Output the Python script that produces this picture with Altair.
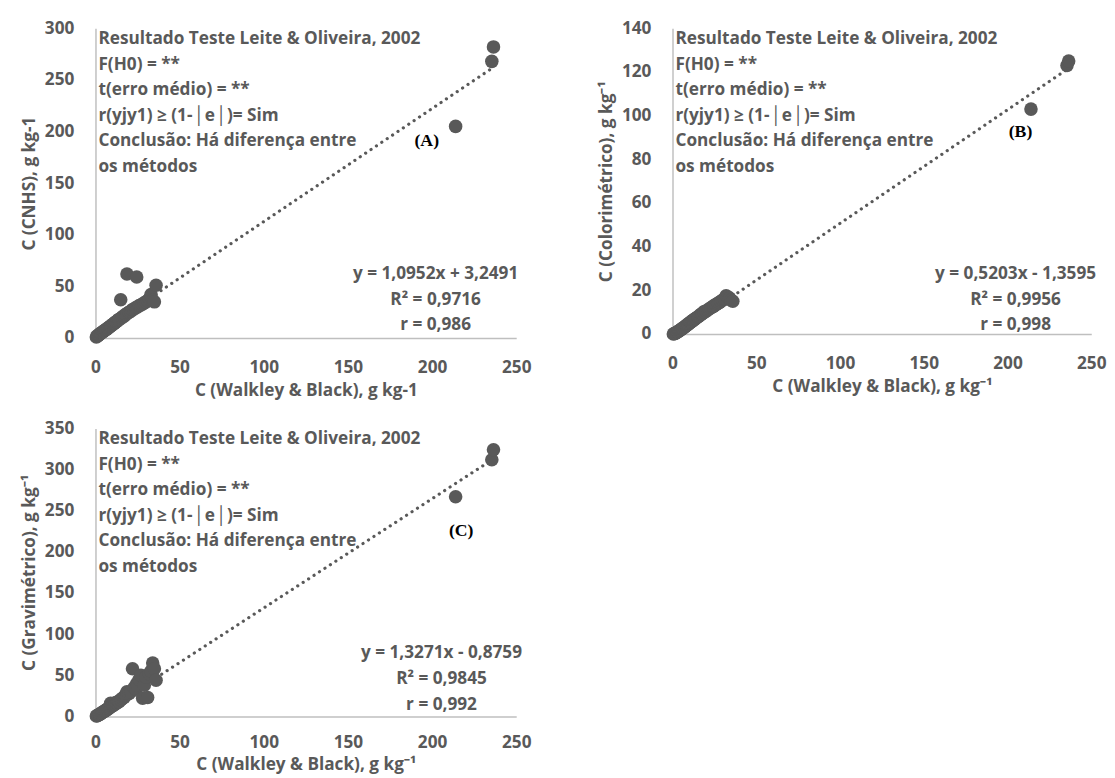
import altair as alt
import pandas as pd

# Walkley & Black carbon (x), g kg-1
wb = [0.5, 1.0, 1.5, 2.0, 2.5, 3.0, 3.5, 4.0, 4.5, 5.0, 5.5, 6.0, 6.5, 7.0, 7.5,
      8.0, 8.5, 9.0, 9.5, 10.0, 10.5, 11.0, 11.5, 12.0, 12.5, 13.0, 13.5, 14.0,
      15.0, 15.5, 16.0, 17.0, 17.5, 18.0, 18.7, 19.0, 20.0, 21.0, 22.0, 23.0,
      24.0, 24.5, 25.0, 26.0, 27.0, 28.0, 29.0, 30.0, 31.0, 32.0, 33.0, 34.0,
      35.0, 36.0, 214.0, 235.5, 236.5]

# CNHS carbon (panel A)
cnhs = [1.0, 1.8, 2.5, 3.0, 3.6, 4.5, 4.8, 5.5, 6.2, 6.5, 7.4, 8.0, 8.3, 9.2, 9.5,
        10.4, 10.8, 11.6, 12.0, 12.8, 13.5, 14.0, 14.6, 15.5, 16.0, 16.4, 17.5, 18.0,
        37.0, 19.5, 20.5, 21.0, 22.0, 23.0, 62.0, 24.0, 25.0, 26.0, 27.5, 28.0,
        29.5, 59.0, 30.0, 31.5, 32.0, 33.0, 34.0, 35.0, 36.0, 38.0, 42.0, 36.5,
        35.0, 51.0, 205.0, 268.0, 282.0]

# Colorimetric carbon (panel B)
colori = [0.0, 0.2, 0.3, 0.5, 0.8, 1.0, 1.2, 1.5, 1.8, 2.0, 2.3, 2.6, 2.8, 3.2, 3.4,
          3.8, 4.0, 4.3, 4.6, 5.0, 5.2, 5.5, 5.8, 6.2, 6.4, 6.6, 7.0, 7.2,
          7.8, 8.0, 8.4, 9.0, 9.2, 9.5, 10.2, 10.0, 10.5, 11.0, 11.6, 12.0,
          12.5, 12.8, 13.0, 13.6, 14.0, 14.5, 15.0, 15.6, 16.0, 17.5, 17.0, 16.5,
          15.5, 15.0, 103.0, 123.0, 125.0]

# Gravimetric carbon (panel C)
grav = [0.5, 1.0, 1.5, 2.0, 2.5, 3.5, 4.0, 4.5, 5.5, 6.0, 6.5, 7.0, 8.0, 9.0, 9.0,
        10.0, 11.0, 16.0, 12.0, 13.0, 13.5, 14.0, 15.0, 17.0, 16.0, 17.0, 18.0, 18.0,
        20.0, 21.0, 22.0, 23.0, 25.0, 26.0, 30.0, 27.0, 28.0, 30.0, 58.0, 35.0,
        33.0, 40.0, 38.0, 45.0, 50.0, 22.0, 38.0, 48.0, 23.0, 52.0, 55.0, 65.0,
        58.0, 44.0, 267.0, 312.0, 324.0]

# Trendline coefficients (slope, intercept) as printed on the chart
coef_a = (1.0952, 3.2491)
coef_b = (0.5203, -1.3595)
coef_c = (1.3271, -0.8759)

x_ticks = [0, 50, 100, 150, 200, 250]
y_ticks_a = [0, 50, 100, 150, 200, 250, 300]
y_ticks_b = [0, 20, 40, 60, 80, 100, 120, 140]
y_ticks_c = [0, 50, 100, 150, 200, 250, 300, 350]

test_text = ("Resultado Teste Leite & Oliveira, 2002\nF(H0) = **\nt(erro médio) = **\n"
             "r(yjy1) ≥ (1-│e│)= Sim\nConclusão: Há diferença entre\nos métodos")
eq_a = "y = 1,0952x + 3,2491\nR² = 0,9716\nr = 0,986"
eq_b = "y = 0,5203x - 1,3595\nR² = 0,9956\nr = 0,998"
eq_c = "y = 1,3271x - 0,8759\nR² = 0,9845\nr = 0,992"

FONT = "Open Sans"
GRAY = "#595959"


def panel(yvals, coef, ydomain, yticks, ytitle, xtitle, w, h, eq, eq_x, eq_y,
          tag, tag_x, tag_y, xlab_pad=21, xtitle_pad=6):
    df = pd.DataFrame({"x": wb, "y": yvals})
    line_df = pd.DataFrame({"x": [min(wb), max(wb)]})
    line_df["y"] = coef[0] * line_df["x"] + coef[1]

    xenc = alt.X("x:Q", scale=alt.Scale(domain=[0, 250], nice=False),
                 axis=alt.Axis(values=x_ticks, title=xtitle, labelFlush=False,
                               labelPadding=xlab_pad, titlePadding=xtitle_pad))
    yenc = alt.Y("y:Q", scale=alt.Scale(domain=ydomain, nice=False),
                 axis=alt.Axis(values=yticks, title=ytitle, labelPadding=22,
                               titlePadding=6))

    pts = alt.Chart(df).mark_circle(size=190, color=GRAY, opacity=1).encode(x=xenc, y=yenc)
    trend = alt.Chart(line_df).mark_line(color=GRAY, strokeWidth=3.2,
                                         strokeDash=[0.1, 6.5], strokeCap="round").encode(x=xenc, y=yenc)
    t1 = alt.Chart(pd.DataFrame({"t": [test_text]})).mark_text(
        align="left", baseline="middle", font=FONT, fontWeight="bold", fontSize=17.5,
        color=GRAY, lineBreak="\n", lineHeight=26).encode(
        text="t:N", x=alt.value(3), y=alt.value(11))
    t2 = alt.Chart(pd.DataFrame({"t": [eq]})).mark_text(
        align="center", baseline="middle", font=FONT, fontWeight="bold", fontSize=17.5,
        color=GRAY, lineBreak="\n", lineHeight=26).encode(
        text="t:N", x=alt.value(eq_x), y=alt.value(eq_y))
    t3 = alt.Chart(pd.DataFrame({"t": [tag]})).mark_text(
        align="center", baseline="middle", font="Liberation Serif", fontWeight="bold",
        fontSize=18, color="#000000").encode(
        text="t:N", x=alt.value(tag_x), y=alt.value(tag_y))
    return alt.layer(trend, pts, t1, t2, t3).properties(width=w, height=h)


pa = panel(cnhs, coef_a, [0, 300], y_ticks_a, "C (CNHS), g kg-1",
           "C (Walkley & Black), g kg-1", 428, 315, eq_a, 346, 250, "(A)", 337, 115)
pb = panel(colori, coef_b, [0, 140], y_ticks_b, "C (Colorimétrico), g kg⁻¹",
           "C (Walkley & Black), g kg⁻¹", 426, 311, eq_b, 349, 250, "(B)", 354, 106)
pc = panel(grav, coef_c, [0, 350], y_ticks_c, "C (Gravimétrico), g kg⁻¹",
           "C (Walkley & Black), g kg⁻¹", 428, 293, eq_c, 352, 229, "(C)", 372, 104,
           xlab_pad=18, xtitle_pad=5)

chart = alt.vconcat(
    alt.hconcat(pa, pb, spacing=66),
    pc,
    spacing=21,
).properties(
    padding={"left": 12, "top": 5, "right": 0, "bottom": 0}
).configure_view(stroke=None).configure_axis(
    grid=False, ticks=False, tickSize=0, domainColor="#bfbfbf", domainWidth=1.5,
    labelFont=FONT, labelFontSize=17.5, labelFontWeight="bold", labelColor=GRAY,
    titleFont=FONT, titleFontSize=17.5, titleFontWeight="bold", titleColor=GRAY,
)

chart.save("out.html", embed_options={"renderer": "svg", "actions": False})
